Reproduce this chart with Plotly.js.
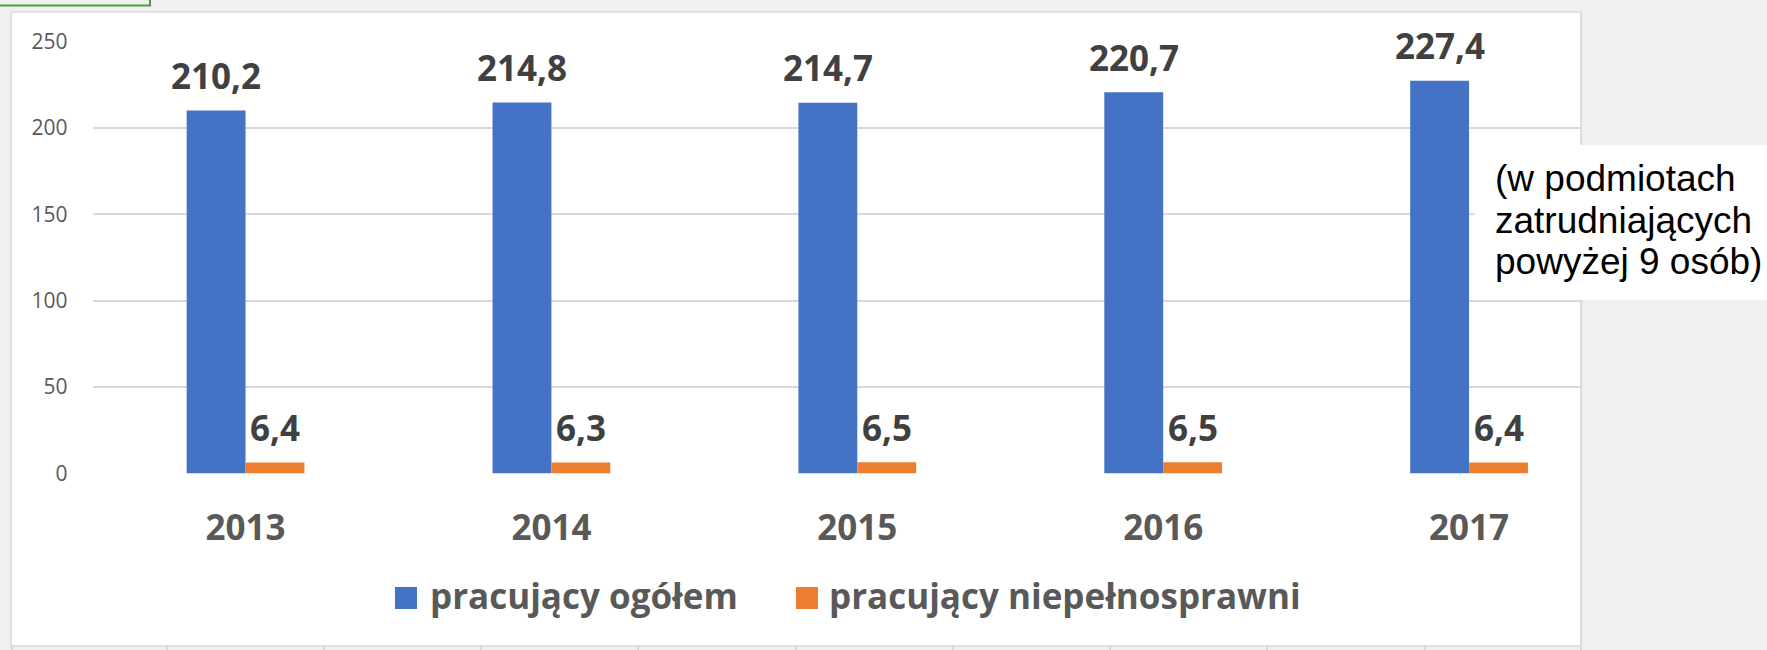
<!DOCTYPE html>
<html>
<head>
<meta charset="utf-8">
<script src="https://cdn.plot.ly/plotly-3.0.1.min.js"></script>
<style>
  html, body { margin: 0; padding: 0; background: #f0f0f0; }
  #chart { width: 1767px; height: 650px; }
</style>
</head>
<body>
<div id="chart"></div>
<script>
// ---- data ----
const years = ['2013', '2014', '2015', '2016', '2017'];
const pracujacyOgolem = [210.2, 214.8, 214.7, 220.7, 227.4];
const pracujacyNiepelnosprawni = [6.4, 6.3, 6.5, 6.5, 6.4];
const seriesNames = ['pracujący ogółem', 'pracujący niepełnosprawni'];
const yTicks = [0, 50, 100, 150, 200, 250];
const noteLines = ['(w podmiotach', 'zatrudniających', 'powyżej 9 osób)'];

// ---- style ----
const W = 1767, H = 650;
const BLUE = '#4472c4', ORANGE = '#ed7d31';
const fx = x => x / W;
const fy = y => 1 - y / H;
const fmt = v => v.toFixed(1).replace('.', ',');

const labelFont = { family: 'Open Sans, sans-serif', size: 35, color: '#404040', weight: 700 };
const HALF = 29.45;

const traces = [
  { type: 'bar', name: seriesNames[0], x: years, y: pracujacyOgolem,
    marker: { color: BLUE }, showlegend: false, hoverinfo: 'skip' },
  { type: 'bar', name: seriesNames[1], x: years, y: pracujacyNiepelnosprawni,
    marker: { color: ORANGE }, showlegend: false, hoverinfo: 'skip' }
];

const annotations = [];
years.forEach((yr, i) => {
  annotations.push({ x: i, y: pracujacyOgolem[i], xref: 'x', yref: 'y', xshift: -HALF, yshift: 35,
    yanchor: 'middle', xanchor: 'center', text: fmt(pracujacyOgolem[i]), showarrow: false, font: labelFont });
  annotations.push({ x: i, y: pracujacyNiepelnosprawni[i], xref: 'x', yref: 'y', xshift: HALF, yshift: 35,
    yanchor: 'middle', xanchor: 'center', text: fmt(pracujacyNiepelnosprawni[i]), showarrow: false, font: labelFont });
});

// legend (drawn manually to get Excel-sized square swatches)
const legendFont = { family: 'Open Sans, sans-serif', size: 35, color: '#595959', weight: 700 };
const legendItems = [
  { x0: 395, color: BLUE, tx: 428, text: seriesNames[0] },
  { x0: 796, color: ORANGE, tx: 827, text: seriesNames[1] }
];
const shapes = [];
shapes.push({ type: 'rect', xref: 'paper', yref: 'paper', layer: 'below',
  x0: fx(11), x1: fx(1581), y0: fy(12), y1: fy(646),
  fillcolor: '#ffffff', line: { color: '#d9d9d9', width: 1.5 } });
shapes.push({ type: 'rect', xref: 'paper', yref: 'paper', layer: 'above',
  x0: fx(-3), x1: fx(150), y0: fy(-3), y1: fy(5.5),
  fillcolor: '#eef4ec', line: { color: '#4f9a42', width: 2 } });
shapes.push({ type: 'rect', xref: 'paper', yref: 'paper', layer: 'above',
  x0: fx(1582), x1: fx(1770), y0: fy(-2), y1: fy(652),
  fillcolor: '#f0f0f0', line: { width: 0 } });
shapes.push({ type: 'line', xref: 'paper', yref: 'paper', layer: 'above',
  x0: fx(1581.5), x1: fx(1581.5), y0: fy(12), y1: fy(646),
  line: { color: '#d9d9d9', width: 1.5 } });
shapes.push({ type: 'rect', xref: 'paper', yref: 'paper', layer: 'above',
  x0: fx(1475), x1: fx(1770), y0: fy(145), y1: fy(300),
  fillcolor: '#ffffff', line: { width: 0 } });
[12, 167, 324, 481, 638, 796, 953, 1110, 1267, 1425, 1581].forEach(xx => {
  shapes.push({ type: 'line', xref: 'paper', yref: 'paper', layer: 'above',
    x0: fx(xx), x1: fx(xx), y0: fy(646.5), y1: fy(651), line: { color: '#d0d0d0', width: 1.5 } });
});
legendItems.forEach(it => {
  shapes.push({ type: 'rect', xref: 'paper', yref: 'paper', layer: 'above',
    x0: fx(it.x0), x1: fx(it.x0 + 22), y0: fy(587), y1: fy(609),
    fillcolor: it.color, line: { width: 0 } });
  annotations.push({ xref: 'paper', yref: 'paper', x: fx(it.tx), y: fy(595.5), xanchor: 'left', yanchor: 'middle',
    text: it.text, showarrow: false, font: legendFont });
});
const noteY = [179, 220, 261];
noteLines.forEach((t, i) => {
  annotations.push({ xref: 'paper', yref: 'paper', x: fx(1493), y: fy(noteY[i]), xanchor: 'left', yanchor: 'middle',
    text: t, showarrow: false, font: { family: 'Liberation Sans, Arial, sans-serif', size: 37, color: '#000000' } });
});

const layout = {
  width: W, height: H,
  margin: { l: 0, r: 0, t: 0, b: 0, pad: 0 },
  paper_bgcolor: '#f0f0f0',
  plot_bgcolor: 'rgba(0,0,0,0)',
  separators: ', ',
  barmode: 'group',
  bargap: 0.615,
  bargroupgap: 0,
  showlegend: false,
  xaxis: {
    type: 'category', domain: [fx(92.6), fx(1622)],
    range: [-0.5, years.length - 0.5], autorange: false,
    categoryorder: 'array', categoryarray: years,
    showgrid: false, zeroline: false, showline: false, ticks: '',
    tickfont: { family: 'Open Sans, sans-serif', size: 35, color: '#595959', weight: 700 },
    ticklabelstandoff: 30, fixedrange: true
  },
  yaxis: {
    range: [0, 250], autorange: false, domain: [fy(473.5), fy(41.7)],
    tickvals: yTicks, ticktext: yTicks.map(String),
    showgrid: true, gridcolor: '#d9d9d9', gridwidth: 2,
    zeroline: false, showline: false, ticks: '',
    tickfont: { family: 'Open Sans, sans-serif', size: 21, color: '#595959' },
    ticklabelstandoff: 24, fixedrange: true
  },
  shapes: shapes,
  annotations: annotations
};

Plotly.newPlot('chart', traces, layout, { displayModeBar: false, staticPlot: true });
</script>
</body>
</html>
